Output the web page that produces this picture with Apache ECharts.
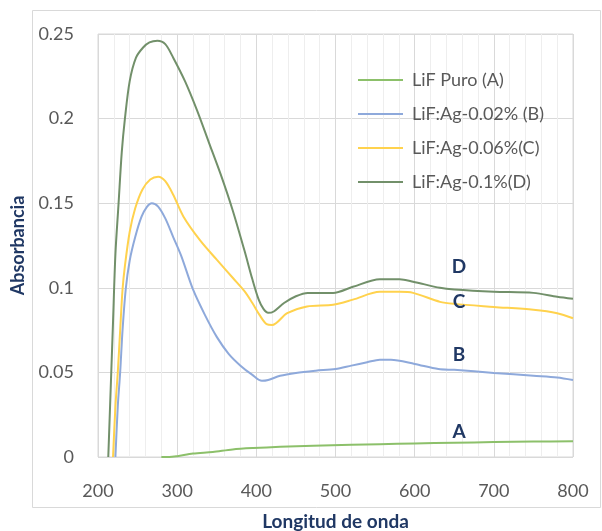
<!DOCTYPE html>
<html><head><meta charset="utf-8">
<script src="https://cdn.jsdelivr.net/npm/echarts@6/dist/echarts.min.js"></script>
<style>html,body{margin:0;padding:0;background:#fff}#c{width:602px;height:531px}</style>
</head><body><div id="c"></div>
<script>
const seriesNames = ['LiF Puro (A)', 'LiF:Ag-0.02% (B)', 'LiF:Ag-0.06%(C)', 'LiF:Ag-0.1%(D)'];
const curveLetters = ['A', 'B', 'C', 'D'];
const letterX = 656;
const letterY = [0.0148, 0.0604, 0.0917, 0.1124];
const xTicks = [200, 300, 400, 500, 600, 700, 800];
const yTicks = [0, 0.05, 0.1, 0.15, 0.2, 0.25];

const aX = [280, 290, 300, 320, 345, 370, 396, 430, 472, 520, 556, 600, 650, 700, 750, 800];
const aY = [0, 0, 0.0005, 0.002, 0.003, 0.0045, 0.0053, 0.006, 0.0066, 0.0072, 0.0076, 0.008, 0.0084, 0.0088, 0.0091, 0.0093];

const bX = [222, 225, 228, 231, 235, 240, 247, 255, 262, 268, 276, 285, 295, 305, 320, 335, 350, 365, 380, 395, 407, 415, 430, 450, 475, 500, 520, 540, 556, 570, 600, 630, 650, 700, 750, 780, 800];
const bY = [0, 0.03, 0.05, 0.075, 0.099, 0.116, 0.13, 0.142, 0.148, 0.150, 0.148, 0.141, 0.130, 0.119, 0.099, 0.084, 0.071, 0.061, 0.054, 0.0485, 0.045, 0.0455, 0.048, 0.0497, 0.051, 0.052, 0.054, 0.056, 0.0575, 0.0575, 0.055, 0.052, 0.0515, 0.0497, 0.048, 0.047, 0.0455];

const cX = [219, 222, 225, 228, 231, 234, 240, 247, 256, 266, 276, 285, 295, 308, 329, 350, 371, 385, 395, 404, 413, 420, 439, 464, 497, 522, 556, 581, 598, 632, 650, 700, 750, 780, 800];
const cY = [0, 0.03, 0.05, 0.075, 0.099, 0.113, 0.133, 0.147, 0.158, 0.164, 0.1657, 0.163, 0.155, 0.142, 0.128, 0.1166, 0.1055, 0.098, 0.091, 0.084, 0.0785, 0.078, 0.085, 0.089, 0.09, 0.093, 0.0976, 0.0976, 0.097, 0.0917, 0.0905, 0.0887, 0.087, 0.085, 0.082];

const dX = [213, 216, 219, 222, 226, 230, 234, 240, 248, 257, 265, 275, 285, 295, 310, 325, 340, 355, 370, 385, 395, 403, 409, 415, 422, 435, 450, 465, 497, 522, 556, 581, 598, 632, 650, 700, 750, 780, 800];
const dY = [0, 0.04, 0.08, 0.12, 0.15, 0.18, 0.2, 0.222, 0.236, 0.242, 0.245, 0.246, 0.244, 0.236, 0.222, 0.205, 0.186, 0.167, 0.146, 0.122, 0.105, 0.093, 0.0875, 0.0852, 0.086, 0.091, 0.095, 0.097, 0.097, 0.1006, 0.105, 0.105, 0.1036, 0.1, 0.099, 0.0977, 0.097, 0.0947, 0.0935];

const xs = [aX, bX, cX, dX];
const ys = [aY, bY, cY, dY];
const colors = ['#8cc06a', '#8ea9db', '#ffd24d', '#72906a'];

const FONT = 'Lato';
const chart = echarts.init(document.getElementById('c'));
chart.setOption({
  animation: false,
  backgroundColor: '#fff',
  graphic: [{
    type: 'rect', shape: {x: 32.5, y: 10.5, width: 568, height: 497},
    style: {fill: 'none', stroke: '#d9d9d9', lineWidth: 1}, z: -10
  }],
  grid: {left: 98, right: 29, top: 34, bottom: 74, show: true, borderColor: '#d9d9d9', borderWidth: 1,
    backgroundColor: 'transparent', containLabel: false, outerBoundsMode: 'none'},
  legend: {
    orient: 'vertical', left: 353, top: 65, itemWidth: 45, itemHeight: 2, itemGap: 14,
    icon: 'rect',
    textStyle: {fontFamily: FONT, fontSize: 18, lineHeight: 20, color: '#595959', padding: [0, 0, 0, 4]},
    data: seriesNames
  },
  xAxis: {
    type: 'value', min: 200, max: 800, interval: 100,
    name: 'Longitud de onda', nameLocation: 'middle', nameGap: 55,
    nameTextStyle: {fontFamily: FONT, fontSize: 19, fontWeight: 'bold', color: '#203864'},
    axisLine: {show: false}, axisTick: {show: false},
    axisLabel: {fontFamily: FONT, fontSize: 18, color: '#595959', margin: 25,
      formatter: v => xTicks.includes(v) ? String(v) : ''},
    splitLine: {show: true, lineStyle: {color: '#d9d9d9'}},
    minorTick: {show: false, splitNumber: 5},
    minorSplitLine: {show: true, lineStyle: {color: '#eeeeee'}}
  },
  yAxis: {
    type: 'value', min: 0, max: 0.25, interval: 0.05,
    name: 'Absorbancia', nameLocation: 'middle', nameGap: 67,
    nameTextStyle: {fontFamily: FONT, fontSize: 18, fontWeight: 'bold', color: '#203864'},
    axisLine: {show: false}, axisTick: {show: false},
    axisLabel: {fontFamily: FONT, fontSize: 18, color: '#595959', margin: 24,
      formatter: v => { const t = yTicks.find(k => Math.abs(k - v) < 1e-9); return t === undefined ? '' : String(t); }},
    splitLine: {show: true, lineStyle: {color: '#d9d9d9'}}
  },
  series: seriesNames.map((name, i) => ({
    name, type: 'line', symbol: 'none', smooth: 0.3,
    lineStyle: {color: colors[i], width: 2}, itemStyle: {color: colors[i]},
    data: xs[i].map((x, j) => [x, ys[i][j]]),
    markPoint: {
      symbol: 'circle', symbolSize: 0, silent: true,
      label: {show: true, position: 'inside', formatter: curveLetters[i], fontFamily: FONT, fontSize: 19, fontWeight: 'bold', color: '#203864'},
      data: [{coord: [letterX, letterY[i]]}]
    }
  }))
});
</script></body></html>
